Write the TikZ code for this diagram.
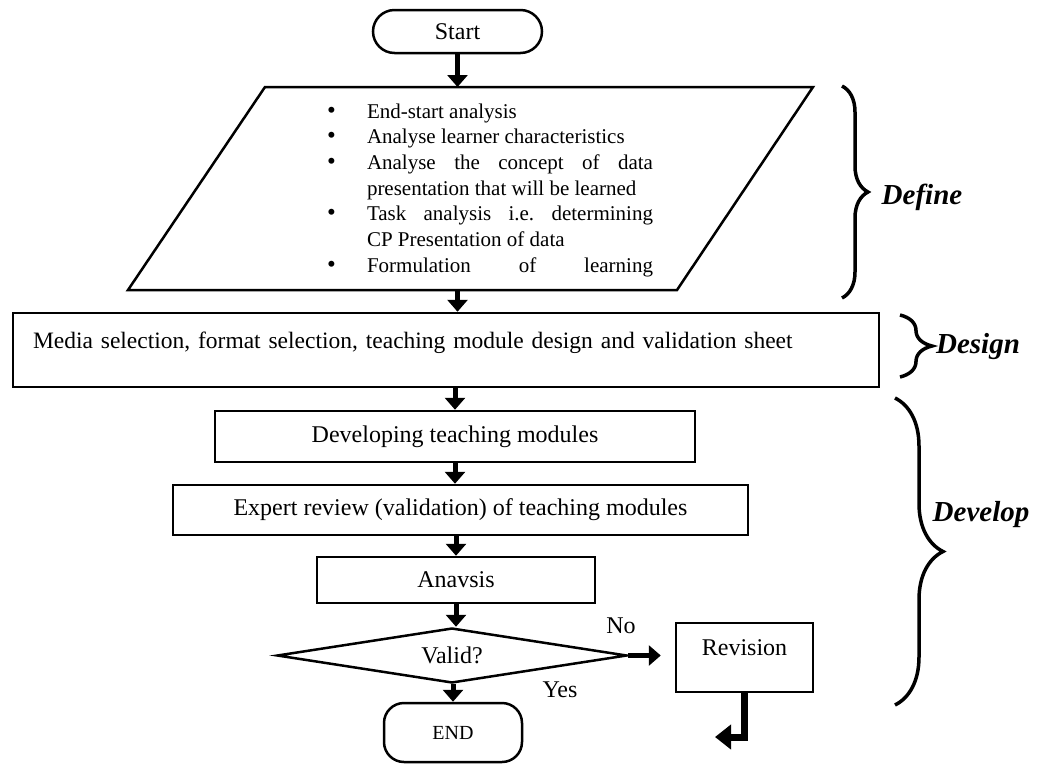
\documentclass[tikz,border=0pt]{standalone}
\usepackage{fontspec}
\setmainfont{Liberation Serif}
\usetikzlibrary{shapes.geometric,arrows.meta,decorations.pathreplacing}
\newcommand{\defbullet}{\smash{\fontsize{25}{25.7}\selectfont\textbullet}}
\tikzset{
  box/.style={draw,line width=2.5pt,rectangle,inner sep=0pt},
  flow/.style={line width=5pt,-{Triangle[length=12pt,width=20pt]}},
  phase/.style={line width=3.5pt,decorate},
  phasetext/.style={font=\fontsize{29}{33}\selectfont\bfseries\itshape}
}
\begin{document}
\begin{tikzpicture}[x=1pt,y=-1pt,every node/.style={font=\fontsize{24}{28}\selectfont}]
\useasboundingbox (0,0) rectangle (1037,764);
% steps of the flow
\node[box,rounded corners=21.5pt,minimum width=169pt,minimum height=43pt] (start) at (457.5,31.5) {Start};
\coordinate (defSW) at (128,290);
\coordinate (defNW) at (265,87);
\coordinate (defNE) at (813,87);
\coordinate (defSE) at (677,290);
\draw[line width=2.5pt] (defSW) -- (defNW) -- (defNE) -- (defSE) -- cycle;
\node[inner sep=0pt,font=\fontsize{21}{25.7}\selectfont] (definelist) at (490,190) {%
\begin{tabular}{@{}p{40pt}@{}p{286pt}@{}}
\defbullet & End-start analysis\\
\defbullet & Analyse learner characteristics\\
\defbullet & \makebox[286pt][s]{Analyse the concept of data}\\
 & presentation that will be learned\\
\defbullet & \makebox[286pt][s]{Task analysis i.e.\ determining}\\
 & CP Presentation of data\\
\defbullet & \makebox[286pt][s]{Formulation of learning}
\end{tabular}};
\node[box,minimum width=866pt,minimum height=74pt,text width=826pt,align=left,text depth=20pt,font=\fontsize{23.5}{28}\selectfont] (design) at (446,350) {Media selection, format selection, teaching module design and validation sheet};
\node[box,minimum width=480pt,minimum height=51pt] (develop1) at (455,436.5) {Developing teaching modules};
\node[box,minimum width=575pt,minimum height=50pt] (review) at (460.5,510) {Expert review (validation) of teaching modules};
\node[box,minimum width=278pt,minimum height=46pt] (anavsis) at (456,580) {Anavsis};
\node[draw,line width=2.5pt,diamond,aspect=6,minimum width=350pt,minimum height=55pt,inner sep=0pt] (valid) at (452,655.5) {Valid?};
\node[box,rounded corners=20pt,minimum width=138pt,minimum height=59pt,font=\fontsize{20}{24}\selectfont] (end) at (453,732.5) {END};
\node[box,minimum width=137pt,minimum height=69pt,text depth=20pt] (revision) at (744.5,657.5) {Revision};
\node (no) at (621,626) {No};
\node (yes) at (560,690) {Yes};
\coordinate (loopback) at (715,737);
% arrows
\draw[flow] (start) -- (start |- defNW);
\draw[flow] (start |- defSW) -- (start |- design.north);
\draw[flow] (develop1 |- design.south) -- (develop1);
\draw[flow] (develop1) -- (develop1 |- review.north);
\draw[flow] (anavsis |- review.south) -- (anavsis);
\draw[flow] (anavsis) -- (anavsis |- valid.north);
\draw[flow] (end |- valid.south) -- (end);
\draw[flow,shorten >=14pt] (valid.east) -- (valid.east -| revision.west);
\draw[flow,line width=7pt,-{Triangle[length=16pt,width=24pt]}] (revision) |- (loopback);
% phases
\draw[phase,decoration={brace,amplitude=26pt}] (842,86) -- (842,298);
\draw[phase,decoration={brace,amplitude=32pt}] (900,315) -- (900,377);
\draw[phase,decoration={brace,amplitude=48pt}] (895,398) -- (895,705);
\node[phasetext] (definelabel) at (922,197) {Define};
\node[phasetext] (designlabel) at (978,347) {Design};
\node[phasetext] (developlabel) at (981,515) {Develop};
\end{tikzpicture}
\end{document}
